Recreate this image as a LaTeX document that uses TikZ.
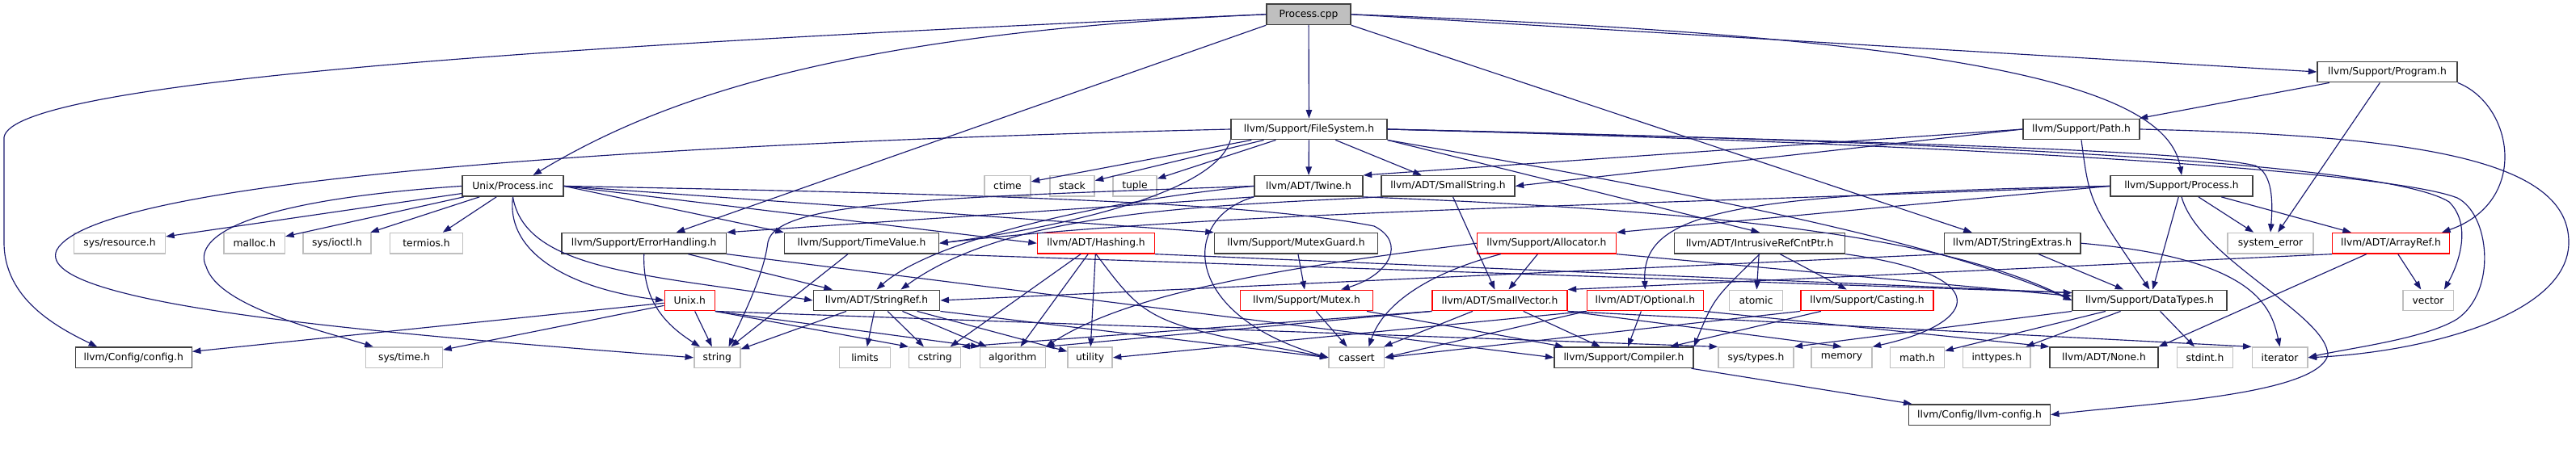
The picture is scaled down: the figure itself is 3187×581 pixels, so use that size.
\documentclass[tikz,border=0pt]{standalone}
\usepackage{fontspec}
\setmainfont{DejaVu Sans}
\usetikzlibrary{arrows.meta}
\definecolor{edgeblue}{HTML}{191970}
\definecolor{boxdark}{HTML}{404040}
\definecolor{boxgrey}{HTML}{BFBFBF}
\definecolor{boxred}{HTML}{FF0000}
\definecolor{rootfill}{HTML}{BFBFBF}
\begin{document}
\begin{tikzpicture}[x=1pt,y=-1pt,
  every node/.style={font=\fontsize{12.3}{14}\selectfont, inner sep=0pt, minimum height=25.5pt, rectangle},
  docbox/.style={draw=boxdark, line width=1.4pt, fill=white},
  sysbox/.style={draw=boxgrey, line width=1.4pt, fill=white},
  truncbox/.style={draw=boxred, line width=1.4pt, fill=white},
  rootbox/.style={draw=boxdark, line width=1.4pt, fill=rootfill},
  inc/.style={draw=edgeblue, line width=1.15pt, -{Triangle[length=10.5pt,width=7.5pt]}},
]
\fill[white] (0,0) rectangle (3187,581);
\useasboundingbox (0,0) rectangle (3187,581);

% row 0
\node[rootbox, minimum width=104pt] (pcpp) at (1619,17.8) {Process.cpp};
% row 1
\node[docbox, minimum width=173pt] (program) at (2953.5,89) {llvm/Support/Program.h};
% row 2
\node[docbox, minimum width=193pt] (fs) at (1619.5,160) {llvm/Support/FileSystem.h};
\node[docbox, minimum width=144pt] (path) at (2575,160) {llvm/Support/Path.h};
% row 3
\node[docbox, minimum width=125pt] (procinc) at (634.5,230.4) {Unix/Process.inc};
\node[sysbox, minimum width=57pt] (ctime) at (1246.5,230.4) {ctime};
\node[sysbox, minimum width=55pt] (stack) at (1326.5,230.4) {stack};
\node[sysbox, minimum width=54pt] (tuple) at (1404,230.4) {tuple};
\node[docbox, minimum width=134pt] (twine) at (1619,230.4) {llvm/ADT/Twine.h};
\node[docbox, minimum width=165pt] (smallstring) at (1791.5,230.4) {llvm/ADT/SmallString.h};
\node[docbox, minimum width=176pt] (proch) at (2699,230.4) {llvm/Support/Process.h};
% row 4
\node[sysbox, minimum width=113pt] (resource) at (148,301.2) {sys/resource.h};
\node[sysbox, minimum width=75.5pt] (malloc) at (314.7,301.2) {malloc.h};
\node[sysbox, minimum width=84pt] (ioctl) at (417,301.2) {sys/ioctl.h};
\node[sysbox, minimum width=89.7pt] (termios) at (527.5,301.2) {termios.h};
\node[docbox, minimum width=203.5pt] (errh) at (796.7,301.2) {llvm/Support/ErrorHandling.h};
\node[docbox, minimum width=191pt] (timevalue) at (1066,301.2) {llvm/Support/TimeValue.h};
\node[truncbox, minimum width=145pt] (hashing) at (1356,301.2) {llvm/ADT/Hashing.h};
\node[docbox, minimum width=202pt] (mutexguard) at (1603.5,301.2) {llvm/Support/MutexGuard.h};
\node[truncbox, minimum width=172pt] (allocator) at (1913.4,301.2) {llvm/Support/Allocator.h};
\node[docbox, minimum width=211pt] (ircp) at (2177,301.2) {llvm/ADT/IntrusiveRefCntPtr.h};
\node[docbox, minimum width=168.6pt] (strext) at (2489.7,301.2) {llvm/ADT/StringExtras.h};
\node[sysbox, minimum width=106pt] (syserr) at (2809,301.2) {system\_error};
\node[truncbox, minimum width=144.7pt] (arrayref) at (2958,301.2) {llvm/ADT/ArrayRef.h};
% row 5
\node[truncbox, minimum width=62pt] (unixh) at (853.2,372) {Unix.h};
\node[docbox, minimum width=156.4pt] (stringref) at (1084.5,372) {llvm/ADT/StringRef.h};
\node[truncbox, minimum width=164pt] (mutex) at (1616.5,372) {llvm/Support/Mutex.h};
\node[truncbox, minimum width=167pt] (smallvector) at (1855.5,372) {llvm/ADT/SmallVector.h};
\node[truncbox, minimum width=144.4pt] (optional) at (2035.4,372) {llvm/ADT/Optional.h};
\node[sysbox, minimum width=65.7pt] (atomic) at (2172.5,372) {atomic};
\node[truncbox, minimum width=164pt] (casting) at (2310,372) {llvm/Support/Casting.h};
\node[docbox, minimum width=191pt] (datatypes) at (2659.5,372) {llvm/Support/DataTypes.h};
\node[sysbox, minimum width=62.4pt] (vector) at (3004,372) {vector};
% row 6
\node[docbox, minimum width=144pt] (config) at (165.2,442.8) {llvm/Config/config.h};
\node[sysbox, minimum width=95pt] (systime) at (500,442.8) {sys/time.h};
\node[sysbox, minimum width=57pt] (string) at (887.3,442.8) {string};
\node[sysbox, minimum width=63pt] (limits) at (1070,442.8) {limits};
\node[sysbox, minimum width=64pt] (cstring) at (1156.7,442.8) {cstring};
\node[sysbox, minimum width=81pt] (algorithm) at (1252.7,442.8) {algorithm};
\node[sysbox, minimum width=55pt] (utility) at (1348.6,442.8) {utility};
\node[sysbox, minimum width=68.5pt] (cassert) at (1678.4,442.8) {cassert};
\node[docbox, minimum width=172pt] (compiler) at (2009,442.8) {llvm/Support/Compiler.h};
\node[sysbox, minimum width=93pt] (systypes) at (2172.4,442.8) {sys/types.h};
\node[sysbox, minimum width=75pt] (memory) at (2278.5,442.8) {memory};
\node[sysbox, minimum width=67pt] (mathh) at (2372,442.8) {math.h};
\node[sysbox, minimum width=83.7pt] (inttypes) at (2470.3,442.8) {inttypes.h};
\node[docbox, minimum width=134pt] (none) at (2603,442.8) {llvm/ADT/None.h};
\node[sysbox, minimum width=69.5pt] (stdint) at (2728,442.8) {stdint.h};
\node[sysbox, minimum width=68.7pt] (iterator) at (2820.6,442.8) {iterator};
% row 7
\node[docbox, minimum width=174.6pt] (llvmconfig) at (2449,513.6) {llvm/Config/llvm-config.h};

% ---- Process.cpp
\draw[inc] (pcpp.west) .. controls (1050,40) and (820,120) .. ([xshift=25pt]procinc.north);
\draw[inc] (pcpp.west) .. controls (700,55) and (15,100) .. (5,170) -- (5,300) .. controls (5,370) and (70,405) .. ([xshift=-45pt]config.north);
\draw[inc] (pcpp.south west) -- ([xshift=40pt]errh.north);
\draw[inc] (pcpp) -- (fs);
\draw[inc] (pcpp.east) .. controls (2400,45) and (2680,100) .. (proch.north);
\draw[inc] (pcpp.south east) -- ([xshift=-50pt]strext.north);
\draw[inc] (pcpp.east) -- (program.west);
% ---- Program.h
\draw[inc] (program) -- (path);
\draw[inc] (program) -- (syserr);
\draw[inc] (program.south east) .. controls (3110,130) and (3130,250) .. ([xshift=-10pt]arrayref.north east);
% ---- Path.h
\draw[inc] (path.west) -- (twine.north east);
\draw[inc] (path.west) -- (smallstring.east);
\draw[inc] (path.south) .. controls (2585,250) .. (datatypes.north);
\draw[inc] (path.east) .. controls (3000,168) and (3178,200) .. (3178,300) .. controls (3178,390) and (3000,436) .. (iterator.east);
% ---- FileSystem.h
\draw[inc] (fs) -- (twine);
\draw[inc] (fs) -- (smallstring);
\draw[inc] (fs.south east) -- (ircp.north);
\draw[inc] (fs.south east) .. controls (2100,240) and (2400,300) .. (datatypes.west);
\draw[inc] (fs.south west) .. controls (1500,250) and (1250,290) .. (timevalue.east);
\draw[inc] (fs) -- (ctime);
\draw[inc] (fs) -- (stack);
\draw[inc] (fs) -- (tuple);
\draw[inc] (fs.west) .. controls (900,175) and (120,215) .. (70,310) .. controls (40,380) and (500,415) .. (string.west);
\draw[inc] (fs.east) .. controls (2300,175) and (2700,185) .. (2790,205) .. controls (2812,215) and (2812,250) .. (syserr.north);
\draw[inc] (fs.east) .. controls (2400,175) and (2950,200) .. (3030,250) .. controls (3060,280) and (3040,330) .. ([xshift=-12pt]vector.north east);
\draw[inc] (fs.east) .. controls (2400,178) and (2950,210) .. (3040,245) .. controls (3080,265) and (3090,360) .. (3040,395) .. controls (3000,420) and (2900,432) .. (iterator.east);
% ---- Twine.h
\draw[inc] (twine.west) .. controls (1350,250) and (1150,300) .. (stringref.north);
\draw[inc] (twine.south west) -- (errh.north east);
\draw[inc] (twine.south east) .. controls (2100,260) and (2400,290) .. (datatypes.west);
\draw[inc] (twine.south west) .. controls (1460,270) and (1460,390) .. (cassert.west);
\draw[inc] (twine.west) .. controls (1150,245) and (960,250) .. (950,300) .. controls (945,340) and (920,390) .. ([xshift=-15pt]string.north east);
% ---- SmallString.h
\draw[inc] (smallstring) -- (smallvector);
\draw[inc] (smallstring.south west) .. controls (1500,255) and (1250,260) .. ([xshift=30pt]stringref.north);
% ---- Process.h
\draw[inc] (proch) -- (syserr);
\draw[inc] (proch) -- (arrayref);
\draw[inc] (proch) -- (datatypes);
\draw[inc] (proch.south) .. controls (2720,320) and (2880,390) .. (2880,440) .. controls (2865,490) and (2650,500) .. (llvmconfig.east);
\draw[inc] (proch.west) -- (allocator.north east);
\draw[inc] (proch.west) .. controls (2150,240) and (2030,260) .. (optional.north);
\draw[inc] (proch.west) .. controls (2000,255) and (1500,262) .. (timevalue.east);
% ---- Unix/Process.inc
\draw[inc] (procinc) -- (resource);
\draw[inc] (procinc) -- (malloc);
\draw[inc] (procinc) -- (ioctl);
\draw[inc] (procinc) -- (termios);
\draw[inc] (procinc.west) .. controls (280,250) and (240,300) .. (255,330) .. controls (270,380) and (400,410) .. ([xshift=10pt]systime.north west);
\draw[inc] (procinc.south) .. controls (625,320) and (720,360) .. (unixh.west);
\draw[inc] (procinc.south) .. controls (650,335) and (800,340) .. (stringref.west);
\draw[inc] (procinc.east) -- (timevalue.north west);
\draw[inc] (procinc.east) -- (hashing.west);
\draw[inc] (procinc.east) -- (mutexguard.north west);
\draw[inc] (procinc.east) .. controls (1200,240) and (1550,250) .. (1700,280) .. controls (1740,300) and (1720,340) .. ([xshift=-40pt]mutex.north east);
% ---- ErrorHandling.h
\draw[inc] (errh) -- (stringref);
\draw[inc] (errh.south east) -- (compiler.west);
\draw[inc] (errh.south) .. controls (795,370) and (820,400) .. ([xshift=8pt]string.north west);
% ---- TimeValue.h
\draw[inc] (timevalue.south east) -- ([yshift=-4pt]datatypes.north west);
\draw[inc] (timevalue) -- (string);
% ---- Hashing.h
\draw[inc] (hashing) -- (cstring);
\draw[inc] (hashing) -- (algorithm);
\draw[inc] (hashing) -- (utility);
\draw[inc] (hashing.south) .. controls (1420,400) .. (cassert.west);
\draw[inc] (hashing.south east) -- ([yshift=-4pt]datatypes.north west);
% ---- MutexGuard.h / Mutex.h
\draw[inc] (mutexguard) -- (mutex);
\draw[inc] (mutex) -- (compiler);
\draw[inc] (mutex) -- (cassert);
% ---- Allocator.h
\draw[inc] (allocator) -- (smallvector);
\draw[inc] ([xshift=30pt]allocator.south west) .. controls (1760,340) and (1710,380) .. ([xshift=15pt]cassert.north);
\draw[inc] (allocator.south east) -- ([yshift=-8pt]datatypes.north west);
\draw[inc] (allocator.west) .. controls (1600,330) and (1400,360) .. (algorithm.north east);
% ---- IntrusiveRefCntPtr.h
\draw[inc] (ircp) -- (atomic);
\draw[inc] (ircp) -- (casting);
\draw[inc] (ircp.south east) .. controls (2470,340) and (2450,400) .. (memory.north east);
\draw[inc] (ircp.south) .. controls (2120,370) .. (compiler.north east);
% ---- StringExtras.h
\draw[inc] (strext) -- (datatypes);
\draw[inc] (strext.south west) -- (stringref.east);
\draw[inc] (strext.east) .. controls (2790,320) and (2810,380) .. (iterator.north);
% ---- SmallVector.h
\draw[inc] (smallvector) -- (cassert);
\draw[inc] (smallvector) -- (compiler);
\draw[inc] (smallvector.south west) -- (algorithm.north east);
\draw[inc] (smallvector.south west) -- (cstring.north east);
\draw[inc] (smallvector.south east) -- (memory.north);
\draw[inc] (smallvector.south east) -- (iterator.north west);
% ---- Optional.h
\draw[inc] (optional.south east) -- (none.north west);
\draw[inc] (optional) -- (compiler);
\draw[inc] (optional.south west) -- (cassert.east);
\draw[inc] (optional.south west) -- (utility.east);
% ---- Casting.h
\draw[inc] (casting) -- (compiler);
\draw[inc] (casting.south west) -- (cassert.east);
% ---- DataTypes.h
\draw[inc] (datatypes.south west) -- (systypes.north east);
\draw[inc] (datatypes) -- (mathh);
\draw[inc] (datatypes) -- (inttypes);
\draw[inc] (datatypes) -- (stdint);
% ---- ArrayRef.h
\draw[inc] (arrayref) -- (none.north east);
\draw[inc] (arrayref.south west) -- (smallvector.north east);
\draw[inc] (arrayref) -- (vector);
% ---- Compiler.h
\draw[inc] (compiler) -- (llvmconfig);
% ---- Unix.h
\draw[inc] (unixh) -- (config);
\draw[inc] (unixh) -- (systime);
\draw[inc] (unixh) -- (string);
\draw[inc] (unixh.south east) -- (algorithm.north west);
\draw[inc] (unixh.south east) -- (cstring.north west);
\draw[inc] (unixh.south east) -- (systypes.north west);
% ---- StringRef.h
\draw[inc] (stringref) -- (limits);
\draw[inc] (stringref) -- (cstring);
\draw[inc] (stringref) -- (algorithm);
\draw[inc] (stringref) -- (utility);
\draw[inc] (stringref) -- (string);
\draw[inc] (stringref.south east) -- (cassert.west);
\end{tikzpicture}
\end{document}
